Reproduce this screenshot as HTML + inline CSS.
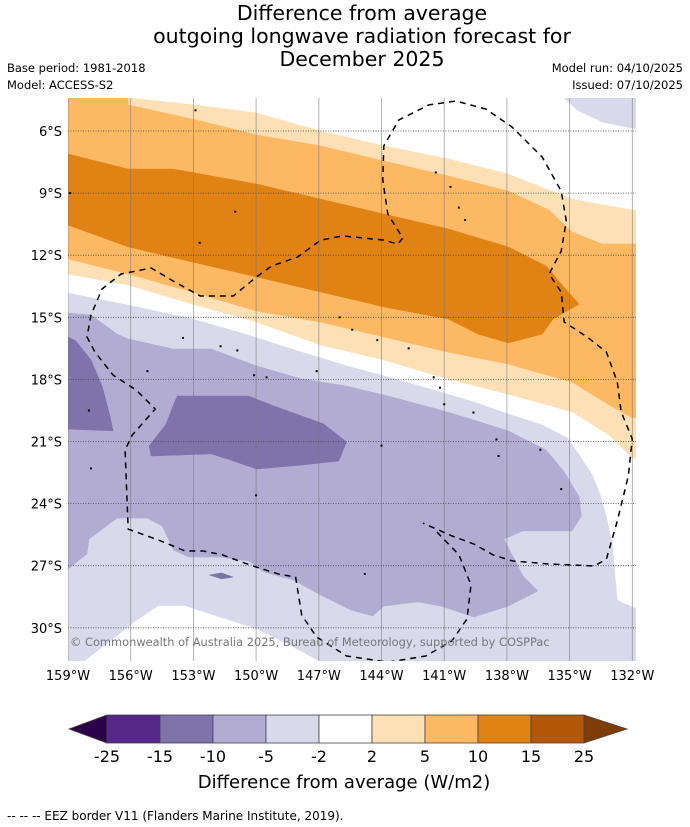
<!DOCTYPE html>
<html><head><meta charset="utf-8"><style>
html,body{margin:0;padding:0;background:#fff;}
svg{display:block;font-family:"DejaVu Sans","Liberation Sans",sans-serif;}
</style></head><body>
<svg id="chart" width="690" height="827" viewBox="0 0 690 827" xmlns="http://www.w3.org/2000/svg">
<defs><clipPath id="mapclip"><rect x="68" y="98" width="568" height="563"/></clipPath></defs>
<g font-size="20.5" text-anchor="middle" fill="#000">
<text x="362" y="20">Difference from average</text>
<text x="362" y="43">outgoing longwave radiation forecast for</text>
<text x="362" y="66">December 2025</text>
</g>
<text x="7" y="72" font-size="11.5">Base period: 1981-2018</text>
<text x="7" y="89" font-size="11.5">Model: ACCESS-S2</text>
<text x="683" y="72" font-size="11.5" text-anchor="end">Model run: 04/10/2025</text>
<text x="683" y="89" font-size="11.5" text-anchor="end">Issued: 07/10/2025</text>
<g id="map" clip-path="url(#mapclip)"></g>
<g id="axes"></g>
<g id="colorbar"></g>
<text x="344" y="788" font-size="18" text-anchor="middle">Difference from average (W/m2)</text>
<text x="7" y="820" font-size="12">--  --  -- EEZ border V11 (Flanders Marine Institute, 2019).</text>
</svg>
<script>
// Contour polygons as [degrees West, degrees South]
const lavenderRegion=[[159.5,13.83],[159,13.83],[156.12,14.41],[153.05,15.08],[150.70,15.76],[147.82,16.68],[145.67,17.35],[143.51,17.93],[141.35,18.56],[139.58,19.09],[137.94,19.67],[136.31,20.20],[135.11,20.83],[134.54,21.65],[133.92,22.62],[133.53,23.58],[133.20,24.79],[132.96,25.95],[132.86,27.16],[132.72,28.66],[132.24,28.90],[131.9,29.04],[131.5,29.04],[131.5,32],[159.5,32]];
const whiteBottomLeft=[[159.5,32],[158.62,31.94],[156.65,30.40],[155.74,29.67],[154.68,28.95],[153.39,28.95],[151.81,29.48],[149.98,30.06],[148.54,30.78],[146.91,31.66],[146.91,32]];
const mediumPurpleRegion=[[159.5,14.79],[159,14.79],[157.90,14.89],[156.65,15.81],[156.12,16.05],[153.96,16.53],[152.14,16.53],[149.98,17.35],[147.82,17.98],[145.67,18.32],[143.51,18.85],[141.35,19.43],[139.58,19.96],[137.94,20.49],[136.12,21.41],[135.26,22.47],[134.54,23.68],[134.44,24.60],[134.88,25.32],[137.23,25.32],[138.14,25.71],[137.23,27.50],[136.51,28.22],[137.94,28.95],[139.58,29.48],[141.16,28.95],[142.26,28.75],[143.89,28.95],[144.42,29.43],[145.47,29.14],[146.91,28.42],[148.21,27.69],[149.65,27.30],[150.37,26.77],[151.81,26.58],[153.24,26.58],[153.96,26.24],[154.49,25.08],[155.21,24.70],[156.65,24.70],[157.99,25.71],[158.09,26.43],[159,27.16],[159.5,27.16]];
const darkPurpleCentral=[[153.77,18.80],[150.37,18.80],[149.26,19.24],[146.77,20.15],[145.67,21.02],[146.05,21.94],[147.82,22.14],[149.98,22.33],[151.09,21.94],[152.14,21.60],[155.02,21.70],[155.12,21.22],[154.30,20.15],[153.96,19.24]];
const darkPurpleWest=[[159.5,16.05],[159,15.95],[158.62,16.14],[157.90,17.06],[157.37,18.32],[156.99,19.77],[156.84,20.49],[159,20.40],[159.5,20.40]];
const darkPurpleSliver=[[152.24,27.45],[151.66,27.35],[151.09,27.55],[151.66,27.64]];
const lavenderNorthEast=[[135.26,4.0],[135.26,4.41],[134.64,4.99],[133.44,5.57],[132,5.86],[131.5,5.86],[131.5,4.0]];
const peachRegion=[[159.5,4.0],[155.98,4.0],[155.98,4.41],[152.53,4.79],[149.98,5.13],[146.91,6],[143.89,6.72],[140.82,7.35],[137.94,8.08],[134.88,9.29],[132,9.82],[131.5,9.82],[131.5,21.80],[132,21.80],[133.10,20.69],[134.88,19.57],[137.94,18.71],[140.82,17.98],[143.89,17.06],[146.91,16.34],[149.98,15.23],[153.05,14.36],[156.12,13.44],[159,12.91],[159.5,12.91]];
const mediumOrangeRegion=[[159.5,4.0],[156.12,4.0],[156.12,4.74],[152.86,5.47],[149.98,6.19],[146.91,6.72],[143.89,7.45],[140.82,8.17],[137.94,8.90],[135.98,9.82],[134.88,10.88],[133.44,11.46],[132,11.46],[131.5,11.46],[131.5,19.86],[132,19.86],[133.10,19.24],[134.88,18.13],[137.94,17.26],[140.82,16.68],[143.89,15.95],[146.91,15.23],[149.98,14.70],[153.05,13.78],[156.12,12.91],[159,12.18],[159.5,12.18]];
const darkOrangeRegion=[[159.5,7.11],[159,7.11],[156.12,7.84],[153.96,7.84],[149.98,8.56],[146.91,9.29],[143.89,10.01],[140.82,10.73],[137.94,11.60],[136.12,12.52],[135.07,13.78],[134.54,14.36],[135.79,15.08],[136.31,15.81],[137.94,16.24],[139.38,15.81],[140.82,15.08],[143.89,14.50],[146.91,13.78],[149.98,13.05],[153.05,12.33],[156.12,11.60],[159,10.54],[159.5,10.54]];
const eezMain=[[141.35,25.37],[140.29,26.48],[139.72,27.93],[139.91,29.57],[140.63,30.64],[141.88,31.36],[143.70,31.66],[145.67,31.36],[147.11,30.44],[147.82,29.38],[148.11,27.55],[148.93,27.40],[150.17,27.01],[151.61,26.48],[152.53,26.29],[153.39,26.29],[154.68,25.76],[156.12,25.23],[156.17,23.92],[156.27,21.41],[155.93,20.69],[154.83,19.43],[155.74,18.51],[156.84,17.79],[157.71,16.68],[158.09,15.95],[157.90,14.89],[157.37,13.63],[156.46,12.91],[155.02,12.62],[153.96,13.25],[152.67,13.97],[151.09,13.97],[149.98,13.05],[149.26,12.52],[148.02,12.09],[146.91,11.27],[145.86,11.07],[143.89,11.27],[143.22,11.46],[142.98,11.17],[143.70,10.01],[143.94,8.37],[143.89,6.72],[143.17,5.47],[141.73,4.74],[140.44,4.55],[139.00,4.94],[137.75,5.81],[136.31,7.26],[135.40,8.90],[135.16,10.35],[135.40,11.80],[135.98,12.91],[135.40,13.78],[135.26,15.23],[134.16,15.95],[133.24,16.68],[132.72,18.13],[132.53,19.57],[132,20.88],[132.19,22.67],[132.72,24.84],[133.24,26.68],[133.82,27.01],[135.98,26.92],[137.75,26.77],[138.66,26.48],[139.58,25.95],[140.63,25.56],[142.02,24.94]];
const islands=[[152.9,5.0],[158.9,9.0],[151.0,9.9],[152.7,11.4],[141.4,8.0],[140.7,8.7],[140.3,9.7],[140.0,10.3],[146.0,15.0],[145.4,15.6],[144.2,16.1],[142.7,16.5],[151.7,16.4],[150.9,16.6],[149.5,17.9],[150.1,17.8],[147.1,17.6],[141.5,17.9],[141.2,18.4],[141.0,19.2],[139.6,19.6],[138.5,20.9],[138.4,21.7],[136.4,21.4],[135.4,23.3],[157.9,22.3],[150.0,23.6],[144.8,27.4],[153.5,16.0],[158.0,19.5],[155.2,17.6],[144.0,21.2]];
const lonTicks=[159,156,153,150,147,144,141,138,135,132];
const latTicks=[6,9,12,15,18,21,24,27,30];
const cbBounds=[-25,-15,-10,-5,-2,2,5,10,15,25];
const cbColors=["#542788","#8073ac","#b2abd2","#d8daeb","#ffffff","#fee0b6","#fdb863","#e08214","#b35806"];

const NS="http://www.w3.org/2000/svg";
function px(w){return 68+(159-w)*20.9;}
function py(s){return 131+(s-6)*20.7;}
function mk(tag,attrs,parent){const e=document.createElementNS(NS,tag);for(const k in attrs)e.setAttribute(k,attrs[k]);parent.appendChild(e);return e;}
function pts(arr){return arr.map(p=>px(p[0]).toFixed(1)+","+py(p[1]).toFixed(1)).join(" ");}
const map=document.getElementById("map");
const layers=[
 [lavenderRegion,"#d8daeb","fill-lavender-minus5-to-minus2"],
 [whiteBottomLeft,"#ffffff","fill-neutral-southwest"],
 [mediumPurpleRegion,"#b2abd2","fill-purple-minus10-to-minus5"],
 [darkPurpleCentral,"#8073ac","fill-dark-purple-central"],
 [darkPurpleWest,"#8073ac","fill-dark-purple-west"],
 [darkPurpleSliver,"#8073ac","fill-dark-purple-sliver"],
 [lavenderNorthEast,"#d8daeb","fill-lavender-northeast"],
 [peachRegion,"#fee0b6","fill-peach-2-to-5"],
 [mediumOrangeRegion,"#fdb863","fill-orange-5-to-10"],
 [darkOrangeRegion,"#e08214","fill-dark-orange-10-to-15"]];
for(const L of layers){
 const p=mk("polygon",{points:pts(L[0]),fill:L[1],stroke:L[1],"stroke-width":"0.5"},map);
 
 
}
for(const w of lonTicks){
 const l=mk("line",{x1:px(w),x2:px(w),y1:98,y2:661,stroke:"#777","stroke-width":"0.8","stroke-opacity":"0.7"},map);
 
 
}
for(const s of latTicks){
 const l=mk("line",{x1:68,x2:636,y1:py(s),y2:py(s),stroke:"#444","stroke-width":"0.8","stroke-dasharray":"1,1.5"},map);
 
 
}
for(const d of islands){
 const c=mk("rect",{x:px(d[0])-1,y:py(d[1])-1,width:2,height:2,fill:"#000"},map);
 
 
}
const eez=mk("polyline",{points:pts(eezMain),fill:"none",stroke:"#000","stroke-width":"1.5","stroke-dasharray":"6,5"},map);


const cr=mk("text",{x:70,y:646,"font-size":"11.4",fill:"#777"},map);
cr.textContent="© Commonwealth of Australia 2025, Bureau of Meteorology, supported by COSPPac";



const axes=document.getElementById("axes");
for(const w of lonTicks){
 const t=mk("text",{x:px(w),y:680,"font-size":"13","text-anchor":"middle"},axes);
 t.textContent=w+"°W";
 
 
}
for(const s of latTicks){
 const t=mk("text",{x:62,y:py(s)+5,"font-size":"13","text-anchor":"end"},axes);
 t.textContent=s+"°S";
 
 
}

const cb=document.getElementById("colorbar");
const cbx0=107,cbw=53,cby=715,cbh=28;
const lt=mk("polygon",{points:`${cbx0},${cby} ${cbx0},${cby+cbh} 69,${cby+cbh/2}`,fill:"#2d004b",stroke:"#444","stroke-width":"0.8"},cb);


cbColors.forEach((c,i)=>{
 const r=mk("rect",{x:cbx0+i*cbw,y:cby,width:cbw,height:cbh,fill:c,stroke:"#444","stroke-width":"0.8"},cb);
 
 
});
const xe=cbx0+cbColors.length*cbw;
const rt=mk("polygon",{points:`${xe},${cby} ${xe},${cby+cbh} 627,${cby+cbh/2}`,fill:"#7f3b08",stroke:"#444","stroke-width":"0.8"},cb);


cbBounds.forEach((v,i)=>{
 const t=mk("text",{x:cbx0+i*cbw,y:762,"font-size":"16","text-anchor":"middle"},cb);
 t.textContent=v;
 
 
});
</script>
</body></html>
